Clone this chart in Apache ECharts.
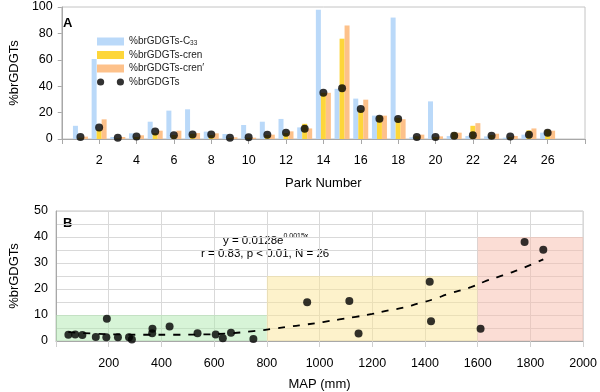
<!DOCTYPE html>
<html><head><meta charset="utf-8">
<script src="https://cdn.jsdelivr.net/npm/echarts@6/dist/echarts.min.js"></script>
<style>html,body{margin:0;padding:0;background:#fff}#c{width:600px;height:392px}</style>
</head><body><div id="c"></div>
<script>
// Panel A data
const parks = [1,2,3,4,5,6,7,8,9,10,11,12,13,14,15,16,17,18,19,20,21,22,23,24,25,26];
const c33   = [10,60.6,1.5,4.3,13.1,21.5,22.5,5.6,3.8,10.6,13.1,15.2,8.8,98,38,30.6,17.7,92,1.3,28.5,2.3,2.3,2,1,3.3,4.8];
const cren  = [1,7,0.5,1.5,4.5,3,4,3,0.8,1,3,4.5,11.5,35,76,22,17.5,16,2,1.5,5,10,3,1.5,6.6,7];
const crenP = [1.8,14.9,1.5,2.8,6.3,6.3,4.5,4.3,1.3,1,3.3,5.8,8,35,86,29.8,17.7,15,3.3,2,4.8,12,4,2.3,8,6.3];
const brg   = [1.5,8.8,1,1.8,5.6,2.8,3.5,3.5,1,1.3,3.3,4.8,7.8,35,38.4,22.7,15.4,15.2,1.5,1.5,2.5,2.8,2.5,1.8,3.3,4.8];
// Panel B data
const mapMM = [47,73,100,151,193,191,235,277,288,365,366,431,537,606,633,664,749,953,1113,1148,1418,1423,1611,1778,1849];
const pctB  = [2.4,2.5,2.3,1.5,8.6,1.4,1.4,1.4,0.6,3.0,4.7,5.6,3.0,2.5,1.1,3.2,0.8,14.9,15.4,2.9,22.8,7.6,4.7,38.1,35.1];
// Trend curve
const trendX = [47,150,250,350,450,550,650,750,839,897,953,1013,1075,1138,1200,1262,1318,1374,1437,1486,1574,1624,1673,1723,1773,1849];
const trendY = [3.4,2.8,2.5,2.4,2.4,2.5,2.9,3.8,4.9,5.7,6.4,7.3,8.3,9.3,10.4,11.8,12.8,14.4,16.2,18.0,20.7,22.8,24.5,26.2,28.1,31.4];
// Climate zones [xStart, xEnd, yTop]
const zones = [[0,800,10,'rgba(175,234,175,0.5)'],[800,1600,25,'rgba(251,229,152,0.5)'],[1600,2000,40,'rgba(248,187,172,0.5)']];
const names = ['%brGDGTs-C33','%brGDGTs-cren','%brGDGTs-cren\u2032','%brGDGTs'];

const font = '"Liberation Sans", Arial, sans-serif';
const gray = '#a8a8a8';
const pair = (xs, ys) => xs.map((x,i)=>[x, ys[i]]);
const chart = echarts.init(document.getElementById('c'));
const barBase = {type:'bar', xAxisIndex:0, yAxisIndex:0, barWidth:5, barGap:'0%'};
chart.setOption({
  animation:false,
  textStyle:{fontFamily:font},
  grid:[
    {left:51,right:15,top:7,bottom:253,show:true,borderColor:'#c4c4c4',borderWidth:1},
    {left:49,right:16,top:211,bottom:50,show:true,borderColor:'#c4c4c4',borderWidth:1}
  ],
  legend:{
    left:92, top:31, orient:'vertical', itemWidth:27, itemHeight:8, itemGap:2.5,
    textStyle:{fontSize:10,color:'#222',lineHeight:11,rich:{sub:{fontSize:6.5,verticalAlign:'bottom',lineHeight:11}}},
    formatter: n => n==='%brGDGTs-C33' ? '%brGDGTs-C{sub|33}' : n,
    data:[
      {name:names[0],icon:'rect'},{name:names[1],icon:'rect'},{name:names[2],icon:'rect'},
      {name:names[3],icon:'path://M0,4a4,4 0 1,0 8,0a4,4 0 1,0 -8,0ZM22,4a4,4 0 1,0 8,0a4,4 0 1,0 -8,0Z'}
    ]
  },
  xAxis:[
    {gridIndex:0,type:'value',min:0,max:28,interval:2,
     axisLine:{lineStyle:{color:gray}},axisTick:{show:true,length:5,lineStyle:{color:gray}},
     splitLine:{show:false},
     axisLabel:{color:'#000',fontSize:12.5,margin:15,formatter:v=>(v===0||v===28)?'':String(v)},
     name:'Park Number',nameLocation:'middle',nameGap:38,nameTextStyle:{fontSize:13,color:'#000'}},
    {gridIndex:1,type:'value',min:0,max:2000,interval:200,
     axisLine:{lineStyle:{color:gray}},axisTick:{show:true,length:6,lineStyle:{color:'#cfcfcf'}},
     splitLine:{show:true,lineStyle:{color:'#d9d9d9'}},
     axisLabel:{color:'#000',fontSize:12.5,margin:16,formatter:v=>v===0?'':String(v)},
     name:'MAP (mm)',nameLocation:'middle',nameGap:37,nameTextStyle:{fontSize:13,color:'#000'}}
  ],
  yAxis:[
    {gridIndex:0,type:'value',min:0,max:100,interval:20,
     axisLine:{show:true,lineStyle:{color:gray}},axisTick:{show:true,length:4,lineStyle:{color:gray}},
     splitLine:{show:false},
     axisLabel:{color:'#000',fontSize:12.5,margin:9},
     name:'%brGDGTs',nameLocation:'middle',nameGap:39,nameTextStyle:{fontSize:13,color:'#000'}},
    {gridIndex:1,type:'value',min:0,max:50,interval:5,
     axisLine:{show:true,lineStyle:{color:gray}},axisTick:{show:false},
     splitLine:{show:true,lineStyle:{color:'#d9d9d9'}},
     axisLabel:{color:'#000',fontSize:12.5,margin:8,formatter:v=>v%10===0?String(v):''},
     name:'%brGDGTs',nameLocation:'middle',nameGap:35,nameTextStyle:{fontSize:13,color:'#000'}}
  ],
  series:[
    Object.assign({name:names[0],data:pair(parks,c33),itemStyle:{color:'#bad9f9'}},barBase),
    Object.assign({name:names[1],data:pair(parks,cren),itemStyle:{color:'#fdd63a'}},barBase),
    Object.assign({name:names[2],data:pair(parks,crenP),itemStyle:{color:'#fdc18a'}},barBase),
    {name:names[3],type:'scatter',xAxisIndex:0,yAxisIndex:0,data:pair(parks,brg),symbolSize:8,itemStyle:{color:'#000'},z:5},
    {name:'zones',type:'scatter',xAxisIndex:1,yAxisIndex:1,data:[],silent:true,
     markArea:{silent:true,data:zones.map(z=>[{xAxis:z[0],yAxis:0,itemStyle:{color:z[3]}},{xAxis:z[1],yAxis:z[2]}])}},
    {name:'trend',type:'line',xAxisIndex:1,yAxisIndex:1,data:pair(trendX,trendY),smooth:true,showSymbol:false,symbol:'none',
     lineStyle:{color:'#000',width:1.8,type:[7,8]},z:3},
    {name:'mapPts',type:'scatter',xAxisIndex:1,yAxisIndex:1,data:pair(mapMM,pctB),symbolSize:8,itemStyle:{color:'#000'},z:5}
  ],
  graphic:[
    {type:'text',left:63,top:17,style:{text:'A',font:'bold 13px '+font,fill:'#000'}},
    {type:'text',left:63,top:217,style:{text:'B',font:'bold 13px '+font,fill:'#000'}},
    {type:'text',left:223,top:233,style:{text:'{a|y = 0.0128e}{s|0.0015x}',
      rich:{a:{fontSize:11.5,fontFamily:font,fill:'#000',lineHeight:14,verticalAlign:'bottom'},s:{fontSize:7,fontFamily:font,fill:'#000',lineHeight:14,verticalAlign:'top'}}}},
    {type:'text',left:201,top:248,style:{text:'r = 0.83, p < 0.01, N = 26',font:'11.5px '+font,fill:'#000'}}
  ]
});
</script></body></html>
